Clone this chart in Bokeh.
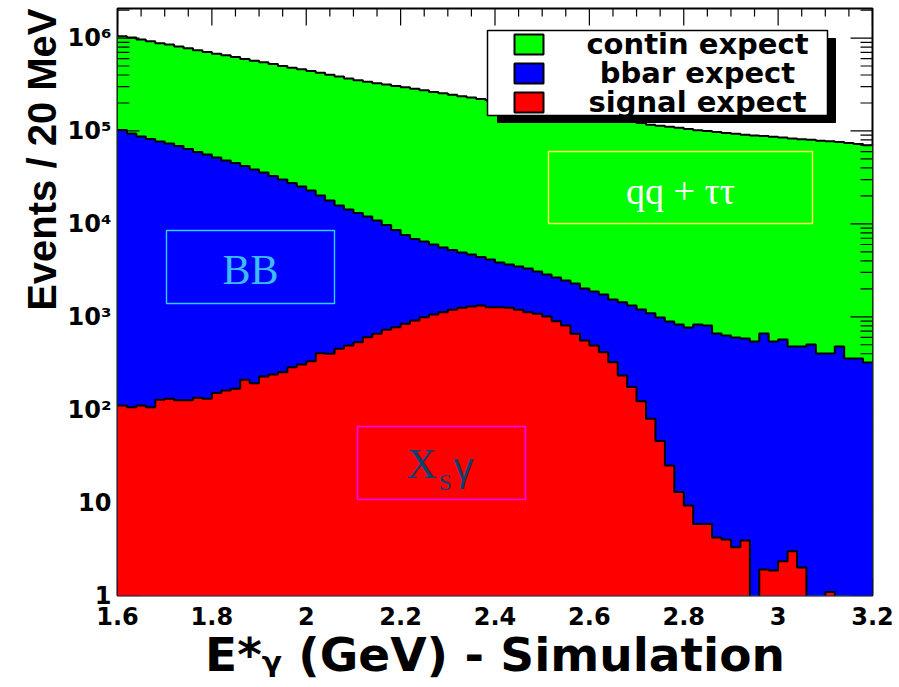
import numpy as np
from bokeh.plotting import figure
from bokeh.models import Range1d, FixedTicker, Label, BoxAnnotation, Title
from bokeh.embed import file_html
from bokeh.resources import INLINE

# ---------------- data (events per 20 MeV bin, 1.6 - 3.2 GeV) ----------------
bin_width = 0.02
x_start = 1.6
signal_expect = [111, 106, 111, 106, 128, 131, 126, 126, 134, 131,
                 151, 161, 168, 210, 193, 228, 239, 253, 287, 307,
                 333, 406, 400, 453, 491, 533, 603, 656, 724, 773,
                 841, 912, 990, 1059, 1120, 1189, 1250, 1291, 1324, 1268,
                 1268, 1250, 1189, 1120, 1077, 1007, 897, 806, 656, 556,
                 491, 416, 324, 233, 175, 123, 80, 46, 25, 13,
                 9.3, 5.9, 5.9, 4.2, 4.0, 3.3, 3.9, 0, 1.9, 1.86,
                 2.34, 3.0, 2.0, 0, 0, 1.09, 0, 0, 0, 0]
bbar_expect = [102490, 93890, 87190, 81890, 76970, 73170, 68770, 63870, 59270, 55670,
               51650, 47940, 45130, 41790, 38310, 35470, 32560, 29850, 27210, 24990,
               22570, 19790, 17500, 15350, 13810, 12570, 11400, 10240, 9006, 7827,
               6749, 5958, 5480, 4941, 4450, 4051, 3670, 3389, 3076, 2872,
               2572, 2400, 2291, 2190, 1993, 1843, 1753, 1654, 1624, 1464,
               1379, 1324, 1206, 1197, 1145, 1077, 1010, 936, 865, 813,
               758, 820, 800, 657, 625, 596, 580, 542, 659, 540,
               568, 476, 477, 503, 403, 402, 479, 356, 356, 322]
contin_expect = [944400, 918000, 878700, 841000, 803900, 777700, 744100, 712000, 681600, 652200,
                 624200, 604900, 578700, 554000, 530500, 514300, 492200, 470900, 451500, 436700,
                 419100, 401800, 385100, 369200, 352700, 337900, 327000, 316100, 306300, 296400,
                 287400, 278100, 268500, 257000, 248400, 239800, 232100, 224300, 216600, 209900,
                 203200, 196400, 189500, 182700, 176900, 171200, 165400, 159500, 154700, 149000,
                 144100, 139300, 134500, 130600, 124700, 120800, 115900, 113000, 110100, 107200,
                 104200, 101200, 99190, 97040, 94470, 92700, 90620, 88960, 87440, 85960,
                 84530, 82720, 80820, 79900, 78100, 77200, 75420, 73740, 72040, 69680]

legend_labels = ["contin expect", "bbar expect", "signal expect"]
x_ticks = [1.6, 1.8, 2.0, 2.2, 2.4, 2.6, 2.8, 3.0, 3.2]
x_tick_labels = ["1.6", "1.8", "2", "2.2", "2.4", "2.6", "2.8", "3", "3.2"]
y_ticks = [1, 10, 100, 1000, 10000, 100000, 1000000]
y_tick_labels = ["1", "10", "10\u00b2", "10\u00b3", "10\u2074", "10\u2075", "10\u2076"]
x_title = "E*\u1d67 (GeV) - Simulation"
y_title = "Events / 20 MeV"

# ---------------- layout (pixels) ----------------
W, H = 899, 687
L, R, T, B = 117, 872, 8, 595
XMIN, XMAX = 1.6, 3.2
YMIN, YMAX = 1.0, 2.08e6


def dx(px):
    return XMIN + (px - L) / (R - L) * (XMAX - XMIN)


def dy(py):
    lo, hi = np.log10(YMIN), np.log10(YMAX)
    return 10 ** (lo + (B - py) / (B - T) * (hi - lo))


n = len(signal_expect)
edges = x_start + bin_width * np.arange(n + 1)
sig = np.array(signal_expect, float)
bb = np.array(bbar_expect, float)
co = np.array(contin_expect, float)
floor = 0.5  # below the visible axis floor: empty bins drop to the bottom
red_top = np.where(sig > 0, sig, floor)
blue_top = sig + bb
green_top = blue_top + co


def ext(a):
    return np.append(a, a[-1])


p = figure(width=W, height=H, x_range=Range1d(XMIN, XMAX), y_range=Range1d(YMIN, YMAX),
           y_axis_type="log", output_backend="svg", toolbar_location=None, title=None,
           min_border_left=L, min_border_right=W - R, min_border_top=T, min_border_bottom=H - B)
p.background_fill_color = "white"
p.border_fill_color = "white"
p.outline_line_color = "black"
p.outline_line_width = 2
p.grid.visible = False

GREEN, BLUE, RED = "#00ff00", "#0000ff", "#ff0000"

# green (total) layer
p.varea_step(x=edges, y1=floor, y2=ext(green_top), step_mode="after", fill_color=GREEN)
p.step(x=edges, y=ext(green_top), mode="after", line_color="black", line_width=2)

# tick marks (drawn under the bbar / signal fills, as in the original)
x_minor = [round(1.6 + 0.05 * k, 3) for k in range(33) if k % 4 != 0]
y_minor = [m * 10 ** k for k in range(0, 7) for m in range(2, 10) if m * 10 ** k < YMAX]
tick = dict(line_color="black", line_width=1.2, length_units="screen")
p.ray(x=[XMIN] * len(y_ticks), y=y_ticks, length=22, angle=0, **tick)
p.ray(x=[XMIN] * len(y_minor), y=y_minor, length=12, angle=0, **tick)
p.ray(x=[XMAX] * len(y_ticks), y=y_ticks, length=22, angle=np.pi, **tick)
p.ray(x=[XMAX] * len(y_minor), y=y_minor, length=12, angle=np.pi, **tick)
p.ray(x=x_ticks, y=[YMAX] * len(x_ticks), length=17, angle=-np.pi / 2, **tick)
p.ray(x=x_minor, y=[YMAX] * len(x_minor), length=8, angle=-np.pi / 2, **tick)
p.ray(x=x_ticks, y=[YMIN] * len(x_ticks), length=17, angle=np.pi / 2, **tick)
p.ray(x=x_minor, y=[YMIN] * len(x_minor), length=8, angle=np.pi / 2, **tick)

# bbar and signal layers
p.varea_step(x=edges, y1=floor, y2=ext(blue_top), step_mode="after", fill_color=BLUE)
p.step(x=edges, y=ext(blue_top), mode="after", line_color="black", line_width=2)
p.varea_step(x=edges, y1=floor, y2=ext(red_top), step_mode="after", fill_color=RED)
p.step(x=edges, y=ext(red_top), mode="after", line_color="black", line_width=2)

# axes: labels only
p.xaxis.ticker = FixedTicker(ticks=x_ticks, minor_ticks=[])
p.xaxis.major_label_overrides = dict(zip(x_ticks, x_tick_labels))
p.yaxis.ticker = FixedTicker(ticks=y_ticks, minor_ticks=[])
p.yaxis.major_label_overrides = dict(zip(y_ticks, y_tick_labels))
for ax in (p.xaxis[0], p.yaxis[0]):
    ax.axis_line_color = None
    ax.major_tick_line_color = None
    ax.minor_tick_line_color = None
    ax.major_tick_in = 0
    ax.major_tick_out = 0
    ax.minor_tick_in = 0
    ax.minor_tick_out = 0
    ax.major_label_text_font = "DejaVu Sans"
    ax.major_label_text_font_style = "bold"
    ax.major_label_text_font_size = "24px"
    ax.major_label_text_color = "black"
p.xaxis.major_label_standoff = 11
p.yaxis.major_label_standoff = 6

# x-axis title
p.xaxis.axis_label = x_title
p.xaxis.axis_label_text_font = "DejaVu Sans"
p.xaxis.axis_label_text_font_style = "bold"
p.xaxis.axis_label_text_font_size = "47px"
p.xaxis.axis_label_text_color = "black"
p.xaxis.axis_label_standoff = -1

# y-axis title, aligned to the top end as in the original
p.add_layout(Title(text=y_title, align="right", offset=0, standoff=2,
                   text_font="Liberation Sans", text_font_style="bold",
                   text_font_size="40px", text_color="black"), "left")

# legend (box with shadow)
p.quad(left=dx(497), right=dx(835), top=dy(38), bottom=dy(122), fill_color="black", line_color="black")
p.quad(left=dx(487), right=dx(827), top=dy(30), bottom=dy(115), fill_color="white",
       line_color="black", line_width=1.5)
row_y = [44, 73, 102]
for lab, col, yc in zip(legend_labels, [GREEN, BLUE, RED], row_y):
    p.quad(left=dx(514), right=dx(543), top=dy(yc - 10), bottom=dy(yc + 10),
           fill_color=col, line_color="black", line_width=2)
    p.add_layout(Label(x=dx(697), y=dy(yc - 1), text=lab, text_align="center",
                       text_baseline="middle", text_font="DejaVu Sans",
                       text_font_style="bold", text_font_size="29px", text_color="black"))

# annotation boxes
p.add_layout(BoxAnnotation(left=dx(548), right=dx(812), top=dy(151), bottom=dy(223),
                           fill_alpha=0, line_alpha=1, line_color="#ffff55", line_width=1.4))
p.add_layout(Label(x=dx(680), y=dy(190), text="qq + \u03c4\u03c4", text_align="center",
                   text_baseline="middle", text_font="Liberation Serif",
                   text_font_size="38px", text_color="white"))
p.add_layout(BoxAnnotation(left=dx(166), right=dx(334), top=dy(230), bottom=dy(303),
                           fill_alpha=0, line_alpha=1, line_color="#33ccff", line_width=1.4))
p.add_layout(Label(x=dx(250), y=dy(269), text="BB", text_align="center",
                   text_baseline="middle", text_font="Liberation Serif",
                   text_font_size="42px", text_color="#3cbcff"))
p.add_layout(BoxAnnotation(left=dx(357), right=dx(525), top=dy(426), bottom=dy(499),
                           fill_alpha=0, line_alpha=1, line_color="#ff00ff", line_width=1.6))
NAVY = "#123f6e"
p.add_layout(Label(x=dx(406), y=dy(463), text="X", text_align="left",
                   text_baseline="middle", text_font="Liberation Serif",
                   text_font_size="42px", text_color=NAVY))
p.add_layout(Label(x=dx(438), y=dy(481), text="S", text_align="left",
                   text_baseline="middle", text_font="Liberation Serif",
                   text_font_size="24px", text_color=NAVY))
p.add_layout(Label(x=dx(453), y=dy(466), text="\u03b3", text_align="left",
                   text_baseline="middle", text_font="Liberation Sans",
                   text_font_size="40px", text_color=NAVY))

open("out.html", "w").write(file_html(p, INLINE))
